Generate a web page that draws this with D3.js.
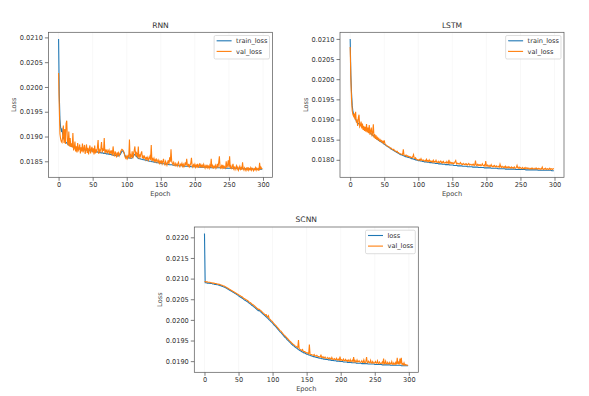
<!DOCTYPE html>
<html><head><meta charset="utf-8">
<script src="https://cdn.jsdelivr.net/npm/d3@7/dist/d3.min.js"></script>
<style>
body{margin:0;background:#fff}
svg{display:block}
text{font-family:"DejaVu Sans",sans-serif}
</style>
</head><body>
<svg id="c" width="589" height="396"></svg>
<script>
// ---------- data ----------
const xTicks = [0, 50, 100, 150, 200, 250, 300];
const rnnYTicks = [0.0185, 0.0190, 0.0195, 0.0200, 0.0205, 0.0210];
const lstmYTicks = [0.0180, 0.0185, 0.0190, 0.0195, 0.0200, 0.0205, 0.0210];
const scnnYTicks = [0.0190, 0.0195, 0.0200, 0.0205, 0.0210, 0.0215, 0.0220];

const rnnTrain = [
0.02097,0.01985,0.01935,0.01918,0.01912,0.01915,0.01905,0.01898,0.01895,0.01892,
0.01890,0.01888,0.01887,0.01885,0.01884,0.01883,0.01882,0.01882,0.01881,0.01880,
0.01880,0.01879,0.01879,0.01878,0.01878,0.01877,0.01877,0.01877,0.01876,0.01876,
0.01876,0.01875,0.01875,0.01875,0.01874,0.01874,0.01874,0.01874,0.01873,0.01873,
0.01873,0.01873,0.01872,0.01872,0.01872,0.01872,0.01871,0.01871,0.01871,0.01871,
0.01870,0.01870,0.01870,0.01870,0.01869,0.01869,0.01869,0.01869,0.01868,0.01868,
0.01868,0.01868,0.01867,0.01867,0.01867,0.01867,0.01866,0.01866,0.01866,0.01866,
0.01865,0.01865,0.01865,0.01865,0.01864,0.01864,0.01864,0.01864,0.01863,0.01863,
0.01863,0.01862,0.01862,0.01862,0.01862,0.01861,0.01861,0.01861,0.01861,0.01862,
0.01863,0.01865,0.01868,0.01870,0.01871,0.01870,0.01867,0.01863,0.01860,0.01859,
0.01858,0.01858,0.01857,0.01857,0.01857,0.01856,0.01856,0.01856,0.01857,0.01859,
0.01861,0.01863,0.01864,0.01863,0.01861,0.01859,0.01857,0.01856,0.01855,0.01855,
0.01855,0.01854,0.01854,0.01854,0.01853,0.01853,0.01853,0.01852,0.01852,0.01852,
0.01851,0.01851,0.01851,0.01850,0.01850,0.01850,0.01850,0.01849,0.01849,0.01849,
0.01848,0.01848,0.01848,0.01848,0.01847,0.01847,0.01847,0.01847,0.01846,0.01846,
0.01846,0.01846,0.01845,0.01845,0.01845,0.01845,0.01845,0.01844,0.01844,0.01844,
0.01844,0.01844,0.01843,0.01843,0.01843,0.01843,0.01843,0.01843,0.01842,0.01842,
0.01842,0.01842,0.01842,0.01842,0.01842,0.01841,0.01841,0.01841,0.01841,0.01841,
0.01841,0.01841,0.01841,0.01840,0.01840,0.01840,0.01840,0.01840,0.01840,0.01840,
0.01840,0.01840,0.01840,0.01840,0.01839,0.01839,0.01839,0.01839,0.01839,0.01839,
0.01839,0.01839,0.01839,0.01839,0.01839,0.01839,0.01839,0.01838,0.01838,0.01838,
0.01838,0.01838,0.01838,0.01838,0.01838,0.01838,0.01838,0.01838,0.01838,0.01838,
0.01838,0.01838,0.01838,0.01837,0.01837,0.01837,0.01837,0.01837,0.01837,0.01837,
0.01837,0.01837,0.01837,0.01837,0.01837,0.01837,0.01837,0.01837,0.01837,0.01837,
0.01837,0.01837,0.01837,0.01837,0.01836,0.01836,0.01836,0.01836,0.01836,0.01836,
0.01836,0.01836,0.01836,0.01836,0.01836,0.01836,0.01836,0.01836,0.01836,0.01836,
0.01836,0.01836,0.01836,0.01836,0.01836,0.01835,0.01835,0.01835,0.01835,0.01835,
0.01835,0.01835,0.01835,0.01835,0.01835,0.01835,0.01835,0.01835,0.01835,0.01835,
0.01835,0.01835,0.01835,0.01835,0.01835,0.01835,0.01834,0.01834,0.01834,0.01834,
0.01834,0.01834,0.01834,0.01834,0.01834,0.01834,0.01834,0.01834,0.01834,0.01834];

const rnnVal = [
0.02028,0.01960,0.01905,0.01895,0.01890,0.01888,0.01900,0.01922,0.01887,0.01915,
0.01885,0.01926,0.01932,0.01890,0.01882,0.01910,0.01880,0.01897,0.01879,0.01886,
0.01878,0.01907,0.01872,0.01876,0.01890,0.01870,0.01880,0.01868,0.01887,0.01872,
0.01875,0.01884,0.01866,0.01878,0.01870,0.01886,0.01868,0.01876,0.01883,0.01865,
0.01874,0.01884,0.01867,0.01877,0.01864,0.01875,0.01882,0.01866,0.01874,0.01879,
0.01868,0.01876,0.01864,0.01882,0.01866,0.01874,0.01868,0.01878,0.01893,0.01865,
0.01873,0.01870,0.01875,0.01889,0.01868,0.01874,0.01871,0.01897,0.01866,0.01872,
0.01869,0.01874,0.01866,0.01870,0.01873,0.01864,0.01870,0.01867,0.01872,0.01862,
0.01880,0.01866,0.01860,0.01870,0.01865,0.01858,0.01868,0.01863,0.01867,0.01861,
0.01865,0.01869,0.01872,0.01874,0.01873,0.01871,0.01868,0.01862,0.01857,0.01855,
0.01860,0.01856,0.01863,0.01858,0.01894,0.01855,0.01862,0.01858,0.01870,0.01856,
0.01866,0.01872,0.01880,0.01860,0.01868,0.01866,0.01858,0.01880,0.01855,0.01864,
0.01860,0.01866,0.01870,0.01856,0.01862,0.01855,0.01860,0.01857,0.01853,0.01859,
0.01854,0.01858,0.01852,0.01856,0.01860,0.01853,0.01883,0.01850,0.01855,0.01852,
0.01856,0.01850,0.01853,0.01849,0.01854,0.01851,0.01848,0.01852,0.01846,0.01850,
0.01847,0.01852,0.01845,0.01849,0.01855,0.01846,0.01843,0.01850,0.01846,0.01842,
0.01848,0.01852,0.01844,0.01858,0.01849,0.01874,0.01850,0.01846,0.01843,0.01848,
0.01844,0.01841,0.01846,0.01843,0.01840,0.01845,0.01848,0.01842,0.01839,0.01844,
0.01842,0.01846,0.01840,0.01844,0.01839,0.01843,0.01848,0.01841,0.01855,0.01843,
0.01840,0.01845,0.01839,0.01842,0.01846,0.01857,0.01841,0.01838,0.01843,0.01840,
0.01844,0.01838,0.01842,0.01839,0.01845,0.01837,0.01841,0.01846,0.01838,0.01843,
0.01839,0.01842,0.01837,0.01844,0.01840,0.01836,0.01841,0.01838,0.01843,0.01837,
0.01840,0.01836,0.01842,0.01838,0.01855,0.01837,0.01841,0.01835,0.01840,0.01838,
0.01842,0.01836,0.01839,0.01845,0.01837,0.01848,0.01860,0.01838,0.01836,0.01841,
0.01837,0.01843,0.01835,0.01840,0.01838,0.01836,0.01850,0.01837,0.01842,0.01852,
0.01838,0.01860,0.01836,0.01840,0.01834,0.01839,0.01845,0.01835,0.01838,0.01833,
0.01837,0.01841,0.01834,0.01838,0.01832,0.01836,0.01840,0.01834,0.01837,0.01833,
0.01848,0.01835,0.01832,0.01837,0.01834,0.01831,0.01836,0.01833,0.01838,0.01832,
0.01835,0.01833,0.01837,0.01832,0.01836,0.01834,0.01831,0.01835,0.01833,0.01837,
0.01832,0.01836,0.01833,0.01835,0.01831,0.01847,0.01834,0.01838,0.01835,0.01836];

const lstmTrain = [
0.02100,0.02010,0.01965,0.01935,0.01920,0.01914,0.01909,0.01905,0.01901,0.01897,
0.01893,0.01891,0.01890,0.01889,0.01887,0.01886,0.01885,0.01884,0.01883,0.01881,
0.01880,0.01879,0.01877,0.01876,0.01874,0.01873,0.01872,0.01870,0.01869,0.01867,
0.01866,0.01864,0.01863,0.01861,0.01860,0.01858,0.01857,0.01855,0.01854,0.01852,
0.01851,0.01850,0.01848,0.01847,0.01846,0.01845,0.01844,0.01843,0.01842,0.01840,
0.01839,0.01838,0.01837,0.01835,0.01834,0.01833,0.01832,0.01831,0.01830,0.01828,
0.01827,0.01826,0.01825,0.01824,0.01823,0.01822,0.01821,0.01820,0.01819,0.01818,
0.01817,0.01816,0.01815,0.01814,0.01813,0.01813,0.01812,0.01811,0.01810,0.01810,
0.01809,0.01808,0.01808,0.01807,0.01807,0.01806,0.01806,0.01805,0.01805,0.01804,
0.01803,0.01803,0.01802,0.01802,0.01801,0.01801,0.01800,0.01800,0.01799,0.01799,
0.01798,0.01798,0.01798,0.01797,0.01797,0.01797,0.01796,0.01796,0.01796,0.01795,
0.01795,0.01795,0.01795,0.01794,0.01794,0.01794,0.01794,0.01793,0.01793,0.01793,
0.01793,0.01792,0.01792,0.01792,0.01792,0.01791,0.01791,0.01791,0.01791,0.01791,
0.01790,0.01790,0.01790,0.01790,0.01790,0.01789,0.01789,0.01789,0.01789,0.01789,
0.01788,0.01788,0.01788,0.01788,0.01788,0.01788,0.01787,0.01787,0.01787,0.01787,
0.01787,0.01787,0.01786,0.01786,0.01786,0.01786,0.01786,0.01786,0.01785,0.01785,
0.01785,0.01785,0.01785,0.01785,0.01785,0.01784,0.01784,0.01784,0.01784,0.01784,
0.01784,0.01784,0.01783,0.01783,0.01783,0.01783,0.01783,0.01783,0.01783,0.01783,
0.01782,0.01782,0.01782,0.01782,0.01782,0.01782,0.01782,0.01782,0.01781,0.01781,
0.01781,0.01781,0.01781,0.01781,0.01781,0.01781,0.01781,0.01780,0.01780,0.01780,
0.01780,0.01780,0.01780,0.01780,0.01780,0.01780,0.01780,0.01779,0.01779,0.01779,
0.01779,0.01779,0.01779,0.01779,0.01779,0.01779,0.01779,0.01778,0.01778,0.01778,
0.01778,0.01778,0.01778,0.01778,0.01778,0.01778,0.01778,0.01778,0.01777,0.01777,
0.01777,0.01777,0.01777,0.01777,0.01777,0.01777,0.01777,0.01777,0.01777,0.01777,
0.01777,0.01777,0.01777,0.01776,0.01776,0.01776,0.01776,0.01776,0.01776,0.01776,
0.01776,0.01776,0.01776,0.01776,0.01776,0.01776,0.01776,0.01776,0.01775,0.01775,
0.01775,0.01775,0.01775,0.01775,0.01775,0.01775,0.01775,0.01775,0.01775,0.01775,
0.01775,0.01775,0.01775,0.01775,0.01775,0.01775,0.01774,0.01774,0.01774,0.01774,
0.01774,0.01774,0.01774,0.01774,0.01774,0.01774,0.01774,0.01774,0.01774,0.01774,
0.01774,0.01774,0.01774,0.01774,0.01774,0.01774,0.01773,0.01773,0.01773,0.01773];

const lstmVal = [
0.02080,0.02000,0.01950,0.01922,0.01912,0.01908,0.01915,0.01900,0.01919,0.01893,
0.01897,0.01884,0.01905,0.01912,0.01882,0.01885,0.01895,0.01878,0.01890,0.01874,
0.01884,0.01872,0.01882,0.01870,0.01889,0.01868,0.01880,0.01866,0.01886,0.01862,
0.01872,0.01880,0.01858,0.01868,0.01888,0.01855,0.01864,0.01852,0.01861,0.01850,
0.01855,0.01850,0.01853,0.01847,0.01850,0.01846,0.01848,0.01843,0.01846,0.01842,
0.01848,0.01840,0.01838,0.01836,0.01835,0.01834,0.01833,0.01832,0.01831,0.01829,
0.01829,0.01827,0.01826,0.01825,0.01826,0.01823,0.01822,0.01822,0.01820,0.01821,
0.01818,0.01818,0.01816,0.01815,0.01815,0.01814,0.01814,0.01813,0.01826,0.01812,
0.01811,0.01810,0.01812,0.01809,0.01810,0.01808,0.01809,0.01807,0.01808,0.01806,
0.01806,0.01805,0.01808,0.01813,0.01804,0.01803,0.01805,0.01802,0.01801,0.01800,
0.01800,0.01799,0.01801,0.01799,0.01803,0.01799,0.01798,0.01800,0.01798,0.01797,
0.01799,0.01797,0.01801,0.01796,0.01798,0.01796,0.01800,0.01796,0.01797,0.01795,
0.01797,0.01795,0.01799,0.01794,0.01796,0.01795,0.01799,0.01794,0.01795,0.01793,
0.01796,0.01793,0.01795,0.01797,0.01793,0.01795,0.01792,0.01796,0.01793,0.01792,
0.01794,0.01792,0.01796,0.01793,0.01791,0.01800,0.01792,0.01794,0.01791,0.01793,
0.01791,0.01793,0.01790,0.01792,0.01795,0.01798,0.01790,0.01792,0.01790,0.01791,
0.01789,0.01791,0.01793,0.01789,0.01790,0.01788,0.01791,0.01789,0.01788,0.01790,
0.01788,0.01790,0.01787,0.01789,0.01791,0.01787,0.01789,0.01788,0.01787,0.01789,
0.01787,0.01789,0.01786,0.01788,0.01798,0.01787,0.01786,0.01789,0.01786,0.01788,
0.01786,0.01788,0.01785,0.01787,0.01790,0.01786,0.01785,0.01787,0.01784,0.01797,
0.01786,0.01784,0.01787,0.01785,0.01783,0.01786,0.01784,0.01788,0.01784,0.01783,
0.01785,0.01783,0.01786,0.01784,0.01782,0.01785,0.01783,0.01782,0.01784,0.01782,
0.01789,0.01783,0.01781,0.01784,0.01782,0.01781,0.01783,0.01781,0.01784,0.01780,
0.01782,0.01781,0.01783,0.01780,0.01782,0.01781,0.01779,0.01782,0.01780,0.01781,
0.01779,0.01782,0.01780,0.01779,0.01781,0.01786,0.01780,0.01779,0.01782,0.01779,
0.01781,0.01779,0.01778,0.01781,0.01779,0.01778,0.01780,0.01778,0.01781,0.01779,
0.01778,0.01780,0.01778,0.01777,0.01779,0.01778,0.01777,0.01780,0.01778,0.01777,
0.01779,0.01777,0.01778,0.01780,0.01777,0.01778,0.01777,0.01779,0.01777,0.01778,
0.01776,0.01778,0.01782,0.01777,0.01776,0.01778,0.01777,0.01779,0.01776,0.01777,
0.01778,0.01776,0.01777,0.01779,0.01776,0.01778,0.01777,0.01776,0.01778,0.01777];

const scnnTrain = [
0.02209,0.02090,0.02090,0.02090,0.02089,0.02089,0.02089,0.02089,0.02088,0.02088,
0.02088,0.02088,0.02087,0.02087,0.02087,0.02086,0.02086,0.02086,0.02085,0.02085,
0.02085,0.02084,0.02084,0.02083,0.02083,0.02082,0.02081,0.02081,0.02080,0.02079,
0.02079,0.02078,0.02077,0.02076,0.02075,0.02074,0.02073,0.02072,0.02071,0.02070,
0.02069,0.02068,0.02067,0.02066,0.02065,0.02064,0.02063,0.02062,0.02061,0.02060,
0.02058,0.02057,0.02056,0.02055,0.02054,0.02053,0.02052,0.02051,0.02049,0.02048,
0.02047,0.02046,0.02045,0.02044,0.02043,0.02041,0.02040,0.02039,0.02038,0.02036,
0.02035,0.02034,0.02032,0.02031,0.02030,0.02028,0.02027,0.02025,0.02024,0.02022,
0.02023,0.02022,0.02020,0.02019,0.02017,0.02016,0.02014,0.02013,0.02011,0.02010,
0.02008,0.02007,0.02005,0.02004,0.02002,0.02000,0.01999,0.01997,0.01995,0.01994,
0.01992,0.01990,0.01988,0.01986,0.01985,0.01983,0.01981,0.01979,0.01977,0.01975,
0.01973,0.01971,0.01970,0.01968,0.01966,0.01964,0.01962,0.01960,0.01958,0.01957,
0.01955,0.01953,0.01951,0.01950,0.01948,0.01946,0.01945,0.01943,0.01941,0.01940,
0.01938,0.01937,0.01936,0.01934,0.01933,0.01932,0.01931,0.01929,0.01928,0.01927,
0.01926,0.01925,0.01924,0.01923,0.01922,0.01921,0.01920,0.01920,0.01919,0.01918,
0.01917,0.01917,0.01916,0.01915,0.01915,0.01914,0.01913,0.01913,0.01912,0.01912,
0.01911,0.01911,0.01910,0.01910,0.01909,0.01909,0.01909,0.01908,0.01908,0.01907,
0.01907,0.01907,0.01906,0.01906,0.01906,0.01905,0.01905,0.01905,0.01904,0.01904,
0.01904,0.01904,0.01903,0.01903,0.01903,0.01903,0.01902,0.01902,0.01902,0.01902,
0.01901,0.01901,0.01901,0.01901,0.01900,0.01900,0.01900,0.01900,0.01900,0.01899,
0.01899,0.01899,0.01899,0.01899,0.01898,0.01898,0.01898,0.01898,0.01898,0.01898,
0.01897,0.01897,0.01897,0.01897,0.01897,0.01897,0.01896,0.01896,0.01896,0.01896,
0.01896,0.01896,0.01896,0.01895,0.01895,0.01895,0.01895,0.01895,0.01895,0.01895,
0.01895,0.01894,0.01894,0.01894,0.01894,0.01894,0.01894,0.01894,0.01894,0.01894,
0.01893,0.01893,0.01893,0.01893,0.01893,0.01893,0.01893,0.01893,0.01893,0.01893,
0.01892,0.01892,0.01892,0.01892,0.01892,0.01892,0.01892,0.01892,0.01892,0.01892,
0.01892,0.01891,0.01891,0.01891,0.01891,0.01891,0.01891,0.01891,0.01891,0.01891,
0.01891,0.01891,0.01891,0.01890,0.01890,0.01890,0.01890,0.01890,0.01890,0.01890,
0.01890,0.01890,0.01890,0.01890,0.01890,0.01890,0.01890,0.01890,0.01890,0.01889,
0.01889,0.01889,0.01889,0.01889,0.01889,0.01889,0.01889,0.01889,0.01889,0.01889];

const scnnVal = [
0.02093,0.02093,0.02092,0.02092,0.02092,0.02091,0.02091,0.02091,0.02091,0.02090,
0.02090,0.02090,0.02089,0.02089,0.02089,0.02088,0.02088,0.02088,0.02087,0.02087,
0.02087,0.02086,0.02086,0.02085,0.02085,0.02084,0.02084,0.02083,0.02082,0.02082,
0.02081,0.02080,0.02079,0.02078,0.02077,0.02076,0.02075,0.02074,0.02073,0.02072,
0.02071,0.02070,0.02069,0.02068,0.02067,0.02066,0.02065,0.02064,0.02063,0.02062,
0.02061,0.02060,0.02059,0.02058,0.02057,0.02056,0.02055,0.02053,0.02052,0.02051,
0.02050,0.02049,0.02048,0.02047,0.02046,0.02044,0.02043,0.02042,0.02041,0.02039,
0.02038,0.02037,0.02036,0.02034,0.02033,0.02031,0.02030,0.02028,0.02027,0.02025,
0.02026,0.02025,0.02023,0.02022,0.02020,0.02019,0.02017,0.02016,0.02014,0.02013,
0.02011,0.02012,0.02008,0.02007,0.02010,0.02003,0.02002,0.02000,0.01998,0.01997,
0.01995,0.01993,0.01991,0.01989,0.01988,0.01986,0.01984,0.01982,0.01980,0.01978,
0.01976,0.01974,0.01973,0.01971,0.01969,0.01967,0.01965,0.01963,0.01962,0.01960,
0.01958,0.01956,0.01955,0.01953,0.01951,0.01949,0.01948,0.01946,0.01944,0.01943,
0.01941,0.01940,0.01939,0.01937,0.01936,0.01935,0.01934,0.01933,0.01951,0.01930,
0.01929,0.01928,0.01927,0.01926,0.01928,0.01924,0.01923,0.01923,0.01922,0.01921,
0.01920,0.01920,0.01919,0.01918,0.01940,0.01917,0.01916,0.01916,0.01915,0.01915,
0.01914,0.01916,0.01913,0.01913,0.01912,0.01914,0.01912,0.01911,0.01911,0.01910,
0.01910,0.01916,0.01909,0.01909,0.01911,0.01908,0.01908,0.01910,0.01907,0.01907,
0.01907,0.01909,0.01906,0.01906,0.01908,0.01906,0.01905,0.01909,0.01905,0.01905,
0.01904,0.01906,0.01904,0.01904,0.01907,0.01903,0.01903,0.01905,0.01903,0.01911,
0.01902,0.01904,0.01902,0.01902,0.01905,0.01901,0.01901,0.01904,0.01901,0.01902,
0.01900,0.01903,0.01900,0.01900,0.01904,0.01899,0.01900,0.01902,0.01899,0.01910,
0.01899,0.01902,0.01899,0.01898,0.01903,0.01898,0.01899,0.01901,0.01898,0.01897,
0.01898,0.01901,0.01897,0.01897,0.01903,0.01897,0.01896,0.01900,0.01910,0.01896,
0.01897,0.01900,0.01896,0.01896,0.01902,0.01896,0.01895,0.01899,0.01896,0.01895,
0.01896,0.01899,0.01895,0.01895,0.01901,0.01895,0.01894,0.01898,0.01895,0.01894,
0.01895,0.01898,0.01894,0.01906,0.01894,0.01894,0.01900,0.01894,0.01893,0.01897,
0.01894,0.01893,0.01897,0.01893,0.01893,0.01899,0.01893,0.01892,0.01896,0.01893,
0.01892,0.01899,0.01892,0.01908,0.01893,0.01897,0.01892,0.01906,0.01894,0.01908,
0.01892,0.01894,0.01891,0.01896,0.01891,0.01892,0.01890,0.01891,0.01890,0.01890];

// ---------- layout ----------
const BLUE = "#1f77b4", ORANGE = "#ff7f0e";
const panels = [
  {title:"RNN",  names:["train_loss","val_loss"], a:rnnTrain,  b:rnnVal,  yt:rnnYTicks,  box:[48.4,32.3,272.5,177.3]},
  {title:"LSTM", names:["train_loss","val_loss"], a:lstmTrain, b:lstmVal, yt:lstmYTicks, box:[340,32.3,564,177.3]},
  {title:"SCNN", names:["loss","val_loss"],       a:scnnTrain, b:scnnVal, yt:scnnYTicks, box:[194.3,227,418.3,372.3]}
];

const svg = d3.select("#c");
svg.append("rect").attr("width",589).attr("height",396).attr("fill","#fff");
const fmt = d3.format(".4f");

panels.forEach(p => {
  const [x0,y0,x1,y1] = p.box;
  const n = p.a.length;
  const xmin = 0, xmax = n - 1, xpad = (xmax - xmin) * 0.05;
  const all = p.a.concat(p.b);
  const [lo, hi] = d3.extent(all), ypad = (hi - lo) * 0.05;
  const x = d3.scaleLinear().domain([xmin - xpad, xmax + xpad]).range([x0, x1]);
  const y = d3.scaleLinear().domain([lo - ypad, hi + ypad]).range([y1, y0]);
  const g = svg.append("g");

  // faint vertical grid
  g.selectAll("line.grid").data(xTicks).join("line")
    .attr("x1", d => x(d)).attr("x2", d => x(d)).attr("y1", y0).attr("y2", y1)
    .attr("stroke", "#f6f6f6").attr("stroke-width", 0.8);

  const clipId = "clip" + p.title;
  svg.append("clipPath").attr("id", clipId).append("rect")
    .attr("x", x0).attr("y", y0).attr("width", x1 - x0).attr("height", y1 - y0);

  const line = d3.line().x((d, i) => x(i)).y(d => y(d));
  g.append("path").datum(p.a).attr("d", line).attr("fill","none")
    .attr("stroke", BLUE).attr("stroke-width", 1.1).attr("clip-path", `url(#${clipId})`);
  g.append("path").datum(p.b).attr("d", line).attr("fill","none")
    .attr("stroke", ORANGE).attr("stroke-width", 1.1).attr("clip-path", `url(#${clipId})`);

  // axes
  const ax = g.append("g").attr("transform", `translate(0,${y1})`)
    .call(d3.axisBottom(x).tickValues(xTicks).tickFormat(d3.format("d")).tickSize(3.5).tickPadding(2));
  const ay = g.append("g").attr("transform", `translate(${x0},0)`)
    .call(d3.axisLeft(y).tickValues(p.yt).tickFormat(fmt).tickSize(3.5).tickPadding(2));
  [ax, ay].forEach(a => {
    a.select(".domain").remove();
    a.selectAll(".tick line").attr("stroke", "#444").attr("stroke-width", 0.7);
    a.selectAll(".tick text").attr("font-size", 6.6).attr("fill", "#333")
      .attr("font-family", '"DejaVu Sans", sans-serif');
  });

  // frame
  g.append("rect").attr("x", x0).attr("y", y0).attr("width", x1 - x0).attr("height", y1 - y0)
    .attr("fill", "none").attr("stroke", "#555").attr("stroke-width", 0.7);

  // titles and labels
  g.append("text").attr("x", (x0 + x1) / 2).attr("y", y0 - 4.8).attr("text-anchor", "middle")
    .attr("font-size", 7.6).attr("font-weight", "normal").attr("fill", "#333").text(p.title);
  g.append("text").attr("x", (x0 + x1) / 2).attr("y", y1 + 19).attr("text-anchor", "middle")
    .attr("font-size", 6.6).attr("fill", "#444").text("Epoch");
  g.append("text").attr("transform", `translate(${x0 - 32.5},${(y0 + y1) / 2}) rotate(-90)`)
    .attr("text-anchor", "middle").attr("font-size", 6.6).attr("fill", "#444").text("Loss");

  // legend
  const lg = g.append("g");
  const items = lg.selectAll("g").data([[p.names[0], BLUE], [p.names[1], ORANGE]]).join("g")
    .attr("transform", (d, i) => `translate(0,${i * 10.6})`);
  items.append("line").attr("x1", 0).attr("x2", 15).attr("y1", 0).attr("y2", 0)
    .attr("stroke", d => d[1]).attr("stroke-width", 1.1);
  items.append("text").attr("x", 19.5).attr("y", 2.3).attr("font-size", 6.6).attr("fill", "#333").text(d => d[0]);
  let tw = 0;
  items.selectAll("text").each(function(){ tw = Math.max(tw, this.getComputedTextLength()); });
  const lw = 19.5 + tw + 4.5, lh = 23.5;
  const lx = x1 - 3 - lw, ly = y0 + 3.2;
  lg.insert("rect", ":first-child").attr("x", -2.5).attr("y", -5.3).attr("width", lw).attr("height", lh)
    .attr("rx", 1.5).attr("fill", "#fff").attr("fill-opacity", 0.85).attr("stroke", "#d0d0d0").attr("stroke-width", 0.7);
  lg.attr("transform", `translate(${lx + 2.5},${ly + 5.3})`);
});
</script>
</body></html>
